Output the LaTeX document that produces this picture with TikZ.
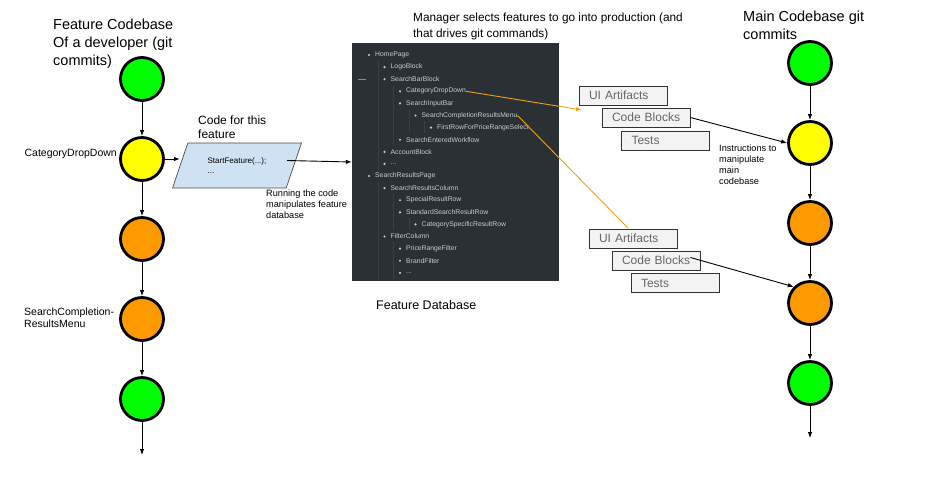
\documentclass[tikz,border=0pt]{standalone}
\usepackage{fontspec}
\setmainfont{Liberation Sans}
\usetikzlibrary{arrows.meta,shapes.geometric}
\definecolor{commitgreen}{HTML}{00FF00}
\definecolor{commityellow}{HTML}{FFFF00}
\definecolor{commitorange}{HTML}{FF9900}
\definecolor{panel}{HTML}{2B3034}
\definecolor{guide}{HTML}{3A3F45}
\definecolor{itemtext}{HTML}{C8CCD0}
\definecolor{pick}{HTML}{F2A30F}
\definecolor{codefill}{HTML}{CFE2F3}
\definecolor{boxfill}{HTML}{F3F3F3}
\newcommand\moreitems{...}
\begin{document}
\begin{tikzpicture}
  [x=1pt,y=-1pt,
   commit/.style={circle,draw,line width=2.8pt,minimum size=43pt,inner sep=0pt},
   link/.style={-{Latex[length=6pt,width=4.5pt]},line width=0.9pt},
   item/.style={anchor=west,inner sep=0pt,text=itemtext,font=\fontsize{6.8}{8}\selectfont},
   artifact/.style={draw=black!80,line width=0.8pt,fill=boxfill,text=black!60,minimum height=19pt,
     text width=75pt,inner xsep=6.5pt,inner ysep=0pt,align=left,font=\fontsize{12}{14}\selectfont,
     execute at begin node=\hspace*{3.5pt}},
   note/.style={inner sep=0pt,align=left}]
  \useasboundingbox (0,0) rectangle (950,491);

  % titles and labels
  \node[note,anchor=north west,font=\fontsize{14.5}{18}\selectfont] (ftitle) at (53,18.5) {Feature Codebase\\Of a developer (git\\commits)};
  \node[note,anchor=north west,font=\fontsize{14.5}{18}\selectfont] (mtitle) at (743,10.3) {Main Codebase git\\commits};
  \node[note,anchor=north west,font=\fontsize{11.8}{16}\selectfont] (manager) at (413,12.4) {Manager selects features to go into production (and\\that drives git commands)};
  \node[note,anchor=north west,font=\fontsize{12}{14.5}\selectfont] (codetitle) at (198,115.2) {Code for this\\feature};
  \node[note,anchor=north west,font=\fontsize{9.2}{11}\selectfont] (run) at (266,190) {Running the code\\manipulates feature\\database};
  \node[note,anchor=north west,font=\fontsize{9.2}{11}\selectfont] (instr) at (719,145) {Instructions to\\manipulate\\main\\codebase};
  \node[note,anchor=base west,font=\fontsize{12.5}{15}\selectfont] (dbtitle) at (376,309) {Feature Database};
  \node[note,anchor=base east,font=\fontsize{10.5}{12.5}\selectfont] (lab1) at (117,156) {CategoryDropDown};
  \node[note,anchor=north west,font=\fontsize{10.5}{12.5}\selectfont] (lab2) at (24,307.3) {SearchCompletion-\\ResultsMenu};

  % feature database panel
  \node[fill=panel,minimum width=207pt,minimum height=238pt,inner sep=0pt] (db) at (455.5,162) {};
  \foreach \gx/\ga/\gb in {378/61/170,378/182/280,393.5/86/145,393.5/194/230,393.5/242/280,409/110/133,409/218/230,424.5/121/133}
    \draw[guide,line width=0.6pt] (\gx,\ga) -- (\gx,\gb);
  \draw[itemtext!60!panel,line width=0.6pt] (358,79) -- (366,79);
  \foreach \lvl/\txt [count=\i] in {0/HomePage,1/LogoBlock,1/SearchBarBlock,2/CategoryDropDown,2/SearchInputBar,
      3/SearchCompletionResultsMenu,4/FirstRowForPriceRangeSelect,2/SearchEnteredWorkflow,1/AccountBlock,1/\moreitems,
      0/SearchResultsPage,1/SearchResultsColumn,2/SpecialResultRow,2/StandardSearchResultRow,3/CategorySpecificResultRow,
      1/FilterColumn,2/PriceRangeFilter,2/BrandFilter,2/\moreitems}
  {
    \fill[itemtext] ({369+15.5*\lvl},{55+12.1*(\i-1)}) circle (1.2);
    \node[item] (t\i) at ({375+15.5*\lvl},{55+12.1*(\i-1)}) {\txt};
  }

  % code for this feature
  \node[trapezium,trapezium left angle=60,trapezium right angle=120,trapezium stretches=true,
    draw=black!70,line width=0.7pt,fill=codefill,minimum width=130pt,minimum height=45pt,inner sep=0pt,
    align=left,font=\fontsize{8}{10}\selectfont] (code) at (237,165.5) {StartFeature(...);\\...};

  % commits
  \node[commit,fill=commitgreen] (f1) at (142,79) {};
  \node[commit,fill=commityellow] (f2) at (142,159) {};
  \node[commit,fill=commitorange] (f3) at (142,239) {};
  \node[commit,fill=commitorange] (f4) at (142,319) {};
  \node[commit,fill=commitgreen] (f5) at (142,399) {};
  \coordinate (fend) at (142,455);
  \node[commit,fill=commitgreen] (m1) at (810,63) {};
  \node[commit,fill=commityellow] (m2) at (810,143) {};
  \node[commit,fill=commitorange] (m3) at (810,223) {};
  \node[commit,fill=commitorange] (m4) at (810,303) {};
  \node[commit,fill=commitgreen] (m5) at (810,383) {};
  \coordinate (mend) at (810,438);

  \foreach \from/\to in {f1/f2,f2/f3,f3/f4,f4/f5,f5/fend,m1/m2,m2/m3,m3/m4,m4/m5,m5/mend}
    \draw[link] (\from) -- (\to);

  \draw[link] (f2) -- (code.west |- f2);
  \draw[link] ([shift={(50,-5)}]code.center) -- (db.west);

  % selections
  \coordinate (hit1) at (582,110);
  \coordinate (hit2) at (628,228);
  \draw[pick,line width=0.9pt,-{Latex[length=6pt,width=4.5pt]}] (t4.east) -- (hit1);
  \draw[pick,line width=0.9pt] (t6.east) -- (hit2);

  % artifacts
  \node[artifact] (ui1) at (623,95.5) {UI Artifacts};
  \node[artifact] (cb1) at (646,117.5) {Code Blocks};
  \node[artifact] (ts1) at (665.5,140.5) {Tests};
  \node[artifact] (ui2) at (633,238.5) {UI Artifacts};
  \node[artifact] (cb2) at (656,260.5) {Code Blocks};
  \node[artifact] (ts2) at (675,283) {Tests};

  \draw[link] (cb1.east) -- (m2.west);
  \draw[link] ([shift={(-10,-3)}]cb2.east) -- (m4.north west);
\end{tikzpicture}
\end{document}
